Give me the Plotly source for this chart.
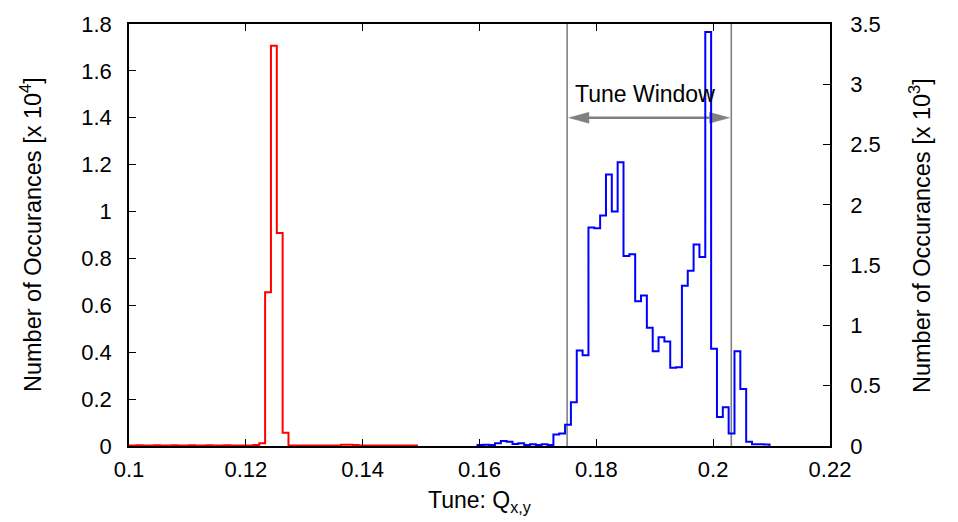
import numpy as np
import plotly.graph_objects as go

# Histogram bin width (tune units)
BIN_WIDTH = 0.001

# Horizontal tune histogram (left axis, x 10^4 occurrences)
red_start = 0.0993
red_counts = [
    0.002, 0.002, 0.003, 0.002, 0.002, 0.003, 0.002, 0.002, 0.003, 0.002,
    0.002, 0.003, 0.002, 0.002, 0.003, 0.002, 0.002, 0.003, 0.002, 0.002,
    0.002, 0.002, 0.004, 0.012, 0.656, 1.707, 0.908, 0.056, 0.002, 0.002,
    0.002, 0.002, 0.002, 0.002, 0.002, 0.002, 0.002, 0.005, 0.005, 0.004,
    0.002, 0.002, 0.002, 0.002, 0.002, 0.002, 0.002, 0.002, 0.002, 0.002,
]

# Vertical tune histogram (right axis, x 10^3 occurrences)
blue_start = 0.15965
blue_counts = [
    0.008, 0.010, 0.008, 0.022, 0.041, 0.035, 0.016, 0.022, 0.008, 0.014,
    0.008, 0.014, 0.008, 0.096, 0.104, 0.177, 0.362, 0.793, 0.752, 1.813,
    1.805, 1.911, 2.251, 1.944, 2.353, 1.576, 1.590, 1.200, 1.249, 0.981,
    0.785, 0.902, 0.867, 0.648, 0.654, 1.330, 1.453, 1.671, 1.567, 3.434,
    0.807, 0.240, 0.321, 0.104, 0.785, 0.472, 0.035, 0.014, 0.014, 0.012,
]

# Tune window limits
window_lo = 0.175
window_hi = 0.2031
window_label = "Tune Window"
arrow_level = 1.4          # left-axis units
label_level = 1.50

x_ticks = [0.1, 0.12, 0.14, 0.16, 0.18, 0.2, 0.22]
FONT = "Liberation Sans, Arial, Helvetica, sans-serif"
GRAY = "#808080"


def step_xy(start, counts):
    edges = start + BIN_WIDTH * np.arange(len(counts) + 1)
    xs = np.concatenate([edges, edges[-1:]])
    ys = np.concatenate([[0.0], counts, [0.0]])
    return xs, ys


fig = go.Figure()

rx, ry = step_xy(red_start, red_counts)
fig.add_trace(go.Scatter(x=rx, y=ry, mode="lines", line=dict(color="#ff0000", width=2, shape="vh"),
                         yaxis="y", showlegend=False, hoverinfo="skip"))

bx, by = step_xy(blue_start, blue_counts)
fig.add_trace(go.Scatter(x=bx, y=by, mode="lines", line=dict(color="#0000ff", width=2, shape="vh"),
                         yaxis="y2", showlegend=False, hoverinfo="skip"))

# Window boundaries
for xv in (window_lo, window_hi):
    fig.add_shape(type="line", x0=xv, x1=xv, y0=0, y1=1, xref="x", yref="paper",
                  line=dict(color=GRAY, width=1.6), layer="below")

# Double-headed arrow between the window boundaries
px_per_x = 701 / 0.12
px_per_y = 428 / 1.8
gap = 1.8 / px_per_x
head_len = 20 / px_per_x
head_half = 5.5 / px_per_y
a0 = window_lo + gap
a1 = window_hi - gap
fig.add_shape(type="line", x0=a0 + head_len * 0.5, x1=a1 - head_len * 0.5, y0=arrow_level, y1=arrow_level,
              xref="x", yref="y", line=dict(color=GRAY, width=2.5), layer="below")
fig.add_shape(type="path", xref="x", yref="y", layer="below",
              path=f"M{a0},{arrow_level} L{a0 + head_len},{arrow_level + head_half} "
                   f"L{a0 + head_len},{arrow_level - head_half} Z",
              fillcolor=GRAY, line=dict(color=GRAY, width=0.5))
fig.add_shape(type="path", xref="x", yref="y", layer="below",
              path=f"M{a1},{arrow_level} L{a1 - head_len},{arrow_level + head_half} "
                   f"L{a1 - head_len},{arrow_level - head_half} Z",
              fillcolor=GRAY, line=dict(color=GRAY, width=0.5))

fig.add_annotation(x=(window_lo + window_hi) / 2 - 0.0008, y=label_level, xref="x", yref="y",
                   text=window_label, showarrow=False, font=dict(size=23, color="black", family=FONT))

# Axis titles
fig.add_annotation(x=-98 / 701, y=0.5, xref="paper", yref="paper", textangle=-90,
                   text="Number of Occurances [x 10<sup>4</sup>]", showarrow=False,
                   xanchor="center", yanchor="middle", font=dict(size=23.5, color="black", family=FONT))
fig.add_annotation(x=1 + 90 / 701, y=0.5, xref="paper", yref="paper", textangle=-90,
                   text="Number of Occurances [x 10<sup>3</sup>]", showarrow=False,
                   xanchor="center", yanchor="middle", font=dict(size=23.5, color="black", family=FONT))
fig.add_annotation(x=0.5, y=-40 / 428, xref="paper", yref="paper",
                   text="Tune: Q<sub>x,y</sub>", showarrow=False,
                   xanchor="center", yanchor="top", font=dict(size=23, color="black", family=FONT))

axis_common = dict(showgrid=False, zeroline=False, showline=True, linecolor="black", linewidth=1.5,
                   ticks="inside", ticklen=7, tickwidth=1, tickcolor="black",
                   tickfont=dict(size=22, color="black", family=FONT))

fig.update_layout(
    width=958, height=522,
    margin=dict(l=129, r=128, t=18, b=76),
    paper_bgcolor="white", plot_bgcolor="white",
    font=dict(family=FONT, color="black"),
    xaxis=dict(range=[0.1, 0.22], tickvals=x_ticks, mirror="ticks", ticklabelstandoff=3, **axis_common),
    yaxis=dict(range=[0, 1.8], dtick=0.2, tick0=0, ticklabelstandoff=11, **axis_common),
    yaxis2=dict(range=[0, 3.5], dtick=0.5, tick0=0, overlaying="y", side="right",
                ticklabelstandoff=14, **axis_common),
)

fig.write_html("out.html")
